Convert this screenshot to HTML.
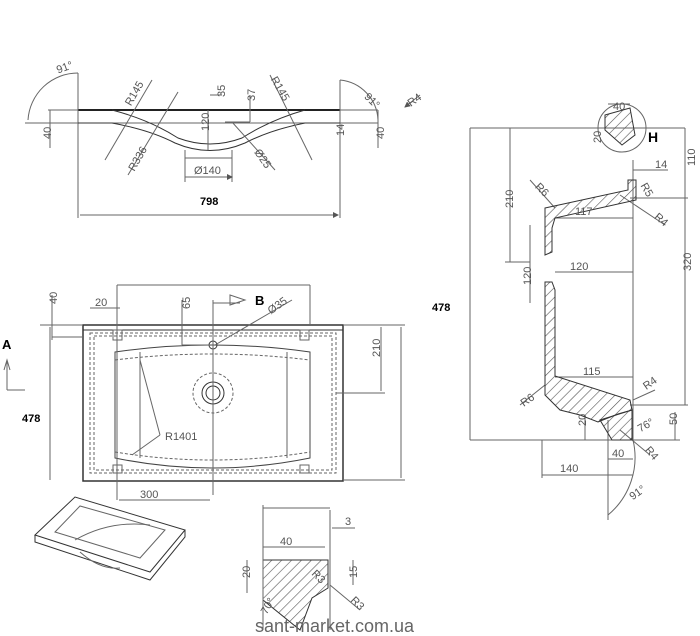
<!DOCTYPE html>
<html><head><meta charset="utf-8"><style>
html,body{margin:0;padding:0;background:#fff;width:700px;height:636px;overflow:hidden}
svg{display:block}
text{font-family:"Liberation Sans",sans-serif;fill:#555;font-size:11px}
.b{fill:#000;font-weight:bold;font-size:11px}
</style></head><body>
<svg width="700" height="636" viewBox="0 0 700 636" xmlns="http://www.w3.org/2000/svg">
<defs>
<pattern id="h" width="7" height="7" patternUnits="userSpaceOnUse" patternTransform="rotate(45)">
<line x1="0" y1="0" x2="0" y2="7" stroke="#555" stroke-width="1.2"/></pattern>
<marker id="a" markerWidth="6" markerHeight="6" refX="5" refY="3" orient="auto"><path d="M0,0 L6,3 L0,6z" fill="#555"/></marker>
</defs>
<g stroke="#666" stroke-width="1" fill="none">
<!-- top section -->
<line x1="25" y1="123" x2="378" y2="123"/>
<line x1="48" y1="110" x2="378" y2="110"/>
<line x1="78" y1="110" x2="340" y2="110" stroke="#222" stroke-width="2"/>
<line x1="78" y1="73" x2="78" y2="218"/>
<line x1="340" y1="80" x2="340" y2="218"/>
<path d="M78,123 L112,123 Q150,130 175,143 Q210,158 245,143 Q270,130 305,123 L340,123" stroke="#333"/>
<path d="M112,110 Q150,120 178,138 Q210,150 242,138 Q270,120 305,110" stroke="#333"/>
<path d="M185,150 L185,158 L232,158 L232,150" />
<path d="M78,73 A50,50 0 0 0 28,120" />
<path d="M340,80 A42,42 0 0 1 378,120"/>
<line x1="50" y1="110" x2="50" y2="148"/>
<line x1="378" y1="110" x2="378" y2="148"/>
<line x1="340" y1="123" x2="340" y2="148"/>
<line x1="105" y1="160" x2="152" y2="80"/>
<line x1="128" y1="175" x2="178" y2="92"/>
<line x1="270" y1="75" x2="312" y2="160"/>
<line x1="232" y1="122" x2="275" y2="170"/>
<line x1="208" y1="110" x2="208" y2="150"/>
<line x1="210" y1="95" x2="222" y2="95"/>
<line x1="225" y1="122" x2="250" y2="122"/><line x1="250" y1="95" x2="250" y2="122"/>
<line x1="185" y1="158" x2="185" y2="182"/><line x1="232" y1="158" x2="232" y2="182"/>
<line x1="185" y1="177" x2="232" y2="177" marker-end="url(#a)"/>
<line x1="80" y1="215" x2="338" y2="215" marker-end="url(#a)"/>
<line x1="420" y1="95" x2="405" y2="107" marker-end="url(#a)"/>
<!-- plan view -->
<rect x="83" y="325" width="260" height="156" stroke="#333" stroke-width="1.5"/>
<line x1="83" y1="330" x2="343" y2="330" stroke="#333"/>
<rect x="90" y="333" width="246" height="140" stroke-dasharray="3,2"/>
<rect x="94" y="336" width="238" height="134" stroke-dasharray="3,2"/>
<path d="M115,352 Q212,338 310,352 L310,458 Q212,478 115,458 Z" stroke="#444"/>
<path d="M115,360 Q212,348 310,360" stroke-dasharray="3,2"/>
<path d="M115,452 Q212,468 310,452" stroke-dasharray="3,2"/>
<line x1="140" y1="352" x2="140" y2="458"/><line x1="287" y1="352" x2="287" y2="458"/>
<circle cx="213" cy="393" r="20" stroke-dasharray="3,2"/>
<circle cx="213" cy="393" r="11" stroke="#333"/><circle cx="213" cy="393" r="7" stroke="#333"/>
<circle cx="213" cy="345" r="4" stroke="#333"/>
<rect x="113" y="330" width="9" height="10"/><rect x="300" y="330" width="9" height="10"/>
<rect x="113" y="465" width="9" height="8"/><rect x="300" y="465" width="9" height="8"/>
<line x1="117" y1="285" x2="117" y2="500"/><line x1="310" y1="285" x2="310" y2="325"/>
<line x1="117" y1="285" x2="310" y2="285"/>
<line x1="213" y1="300" x2="213" y2="495"/>
<line x1="213" y1="303" x2="240" y2="303"/>
<line x1="182" y1="345" x2="182" y2="300"/><line x1="182" y1="345" x2="210" y2="345"/>
<line x1="215" y1="345" x2="292" y2="300"/>
<line x1="40" y1="325" x2="83" y2="325"/><line x1="52" y1="337" x2="83" y2="337"/>
<line x1="52" y1="295" x2="52" y2="340"/>
<line x1="50" y1="327" x2="50" y2="480"/>
<line x1="90" y1="308" x2="120" y2="308"/>
<line x1="343" y1="325" x2="405" y2="325"/><line x1="343" y1="480" x2="405" y2="480"/>
<line x1="336" y1="393" x2="385" y2="393"/>
<line x1="381" y1="327" x2="381" y2="391"/>
<line x1="401" y1="327" x2="401" y2="478"/>
<line x1="119" y1="500" x2="210" y2="500"/>
<line x1="140" y1="360" x2="160" y2="435"/><line x1="160" y1="435" x2="132" y2="455"/>
<line x1="7" y1="390" x2="25" y2="390"/><line x1="7" y1="390" x2="7" y2="360"/>
<path d="M4,370 L7,360 L10,370" />
<path d="M230,295 L245,300 L230,305 Z"/>
<!-- right section -->
<line x1="470" y1="128" x2="685" y2="128"/>
<line x1="470" y1="440" x2="680" y2="440"/>
<line x1="470" y1="128" x2="470" y2="440"/>
<line x1="510" y1="128" x2="510" y2="262"/><line x1="505" y1="262" x2="530" y2="262"/>
<line x1="530" y1="225" x2="530" y2="303"/>
<line x1="685" y1="128" x2="685" y2="405"/>
<line x1="630" y1="198" x2="688" y2="198"/>
<line x1="630" y1="405" x2="688" y2="405"/>
<line x1="555" y1="218" x2="633" y2="218"/>
<line x1="555" y1="272" x2="633" y2="272"/>
<line x1="555" y1="377" x2="633" y2="377"/>
<line x1="633" y1="160" x2="633" y2="440"/>
<line x1="633" y1="170" x2="668" y2="170"/>
<line x1="542" y1="440" x2="542" y2="478"/><line x1="542" y1="475" x2="633" y2="475"/>
<line x1="608" y1="420" x2="608" y2="520"/><line x1="608" y1="459" x2="633" y2="459"/>
<path d="M633,440 A75,75 0 0 1 608,515"/>
<line x1="585" y1="415" x2="585" y2="440"/>
<line x1="675" y1="412" x2="675" y2="440"/>
<line x1="620" y1="430" x2="650" y2="455"/>
<line x1="620" y1="195" x2="665" y2="225"/>
<line x1="530" y1="180" x2="555" y2="208"/>
<line x1="520" y1="405" x2="545" y2="385"/>
<line x1="633" y1="400" x2="655" y2="390"/>
<circle cx="622" cy="128" r="24"/>
<line x1="608" y1="104" x2="630" y2="104"/>
</g>
<g fill="url(#h)" stroke="#333" stroke-width="1">
<path d="M545,208 L628,190 L628,180 L636,180 L636,200 L555,218 L552,228 L552,252 L545,255 Z"/>
<path d="M545,282 L552,282 L555,290 L555,376 L630,400 L632,410 L618,414 L598,422 L580,415 L560,410 L545,395 Z"/>
<path d="M600,420 L632,410 L632,440 L612,440 Z"/>
<path d="M605,115 L630,108 L635,135 L622,145 L605,130 Z"/>
<path d="M263,560 L328,560 L328,588 L312,598 L300,630 L263,600 Z"/>
</g>
<g stroke="#666" fill="none">
<line x1="263" y1="505" x2="263" y2="630"/><line x1="330" y1="510" x2="330" y2="630"/>
<line x1="263" y1="508" x2="330" y2="508"/><line x1="263" y1="547" x2="325" y2="547"/>
<line x1="332" y1="528" x2="355" y2="528"/>
<line x1="247" y1="560" x2="247" y2="593"/><line x1="353" y1="560" x2="353" y2="585"/>
<line x1="330" y1="585" x2="360" y2="610"/>
<!-- iso sink -->
<path d="M35,535 L75,497 L185,530 L150,572 Z" stroke="#333"/>
<path d="M35,535 L35,542 L150,580 L185,537 L185,530" stroke="#333"/>
<path d="M55,532 L80,506 L165,530 L140,558 Z"/>
<path d="M75,540 Q110,520 150,525"/>
<path d="M80,552 Q100,570 120,568"/>
</g>
<text x="57" y="72" transform="rotate(-20 62 70)">91°</text>
<text x="365" y="102" transform="rotate(45 370 98)">91°</text>
<text x="407" y="105" transform="rotate(-35 412 100)">R4</text>
<text x="47" y="143" transform="rotate(-90 47 139)">40</text>
<text x="380" y="143" transform="rotate(-90 380 139)">40</text>
<text x="340" y="140" transform="rotate(-90 340 136)">14</text>
<text x="123" y="103" transform="rotate(-60 130 98)">R145</text>
<text x="270" y="88" transform="rotate(60 278 84)">R145</text>
<text x="125" y="168" transform="rotate(-60 133 162)">R336</text>
<text x="255" y="160" transform="rotate(55 262 155)">Ø25</text>
<text x="205" y="135" transform="rotate(-90 205 131)">120</text>
<text x="220" y="102" transform="rotate(-90 220 97)">35</text>
<text x="250" y="106" transform="rotate(-90 250 101)">37</text>
<text x="194" y="174">Ø140</text>
<text class="b" x="200" y="205">798</text>
<text x="95" y="306">20</text>
<text x="186" y="313" transform="rotate(-90 186 309)">65</text>
<text x="56" y="311" transform="rotate(-90 53 307)">40</text>
<text class="b" x="255" y="305" style="font-size:13px">B</text>
<text x="265" y="310" transform="rotate(-35 275 303)">Ø35</text>
<text x="376" y="361" transform="rotate(-90 376 357)">210</text>
<text x="165" y="440">R1401</text>
<text x="140" y="498">300</text>
<text class="b" x="2" y="349" style="font-size:13px">A</text>
<text class="b" x="22" y="422">478</text>
<text class="b" x="432" y="311">478</text>
<text x="613" y="110">40</text>
<text class="b" x="648" y="142" style="font-size:14px">H</text>
<text x="595" y="145" transform="rotate(-90 597 141)">20</text>
<text x="655" y="168">14</text>
<text x="685" y="168" transform="rotate(-90 689 162)">110</text>
<text x="510" y="215" transform="rotate(-90 508 210)">210</text>
<text x="575" y="215">117</text>
<text x="535" y="190" transform="rotate(45 538 188)">R6</text>
<text x="640" y="190" transform="rotate(60 644 188)">R5</text>
<text x="655" y="222" transform="rotate(40 660 218)">R4</text>
<text x="526" y="290" transform="rotate(-90 526 285)">120</text>
<text x="685" y="275" transform="rotate(-90 686 270)">320</text>
<text x="570" y="270">120</text>
<text x="583" y="375">115</text>
<text x="520" y="405" transform="rotate(-35 525 400)">R6</text>
<text x="643" y="388" transform="rotate(-35 648 384)">R4</text>
<text x="580" y="428" transform="rotate(-90 582 424)">20</text>
<text x="638" y="432" transform="rotate(-30 640 428)">76°</text>
<text x="672" y="430" transform="rotate(-90 672 425)">50</text>
<text x="612" y="457">40</text>
<text x="645" y="455" transform="rotate(50 650 452)">R4</text>
<text x="560" y="472">140</text>
<text x="630" y="498" transform="rotate(-35 635 495)">91°</text>
<text x="280" y="545">40</text>
<text x="345" y="525">3</text>
<text x="245" y="583" transform="rotate(-90 245 578)">20</text>
<text x="352" y="583" transform="rotate(-90 352 578)">15</text>
<text x="312" y="578" transform="rotate(45 316 575)">R3</text>
<text x="350" y="605" transform="rotate(45 355 603)">R3</text>
<text x="262" y="613" transform="rotate(-60 266 610)">70°</text>
<text x="255" y="632" style="font-size:18px;fill:#666">sant-market.com.ua</text>
</svg>
</body></html>
